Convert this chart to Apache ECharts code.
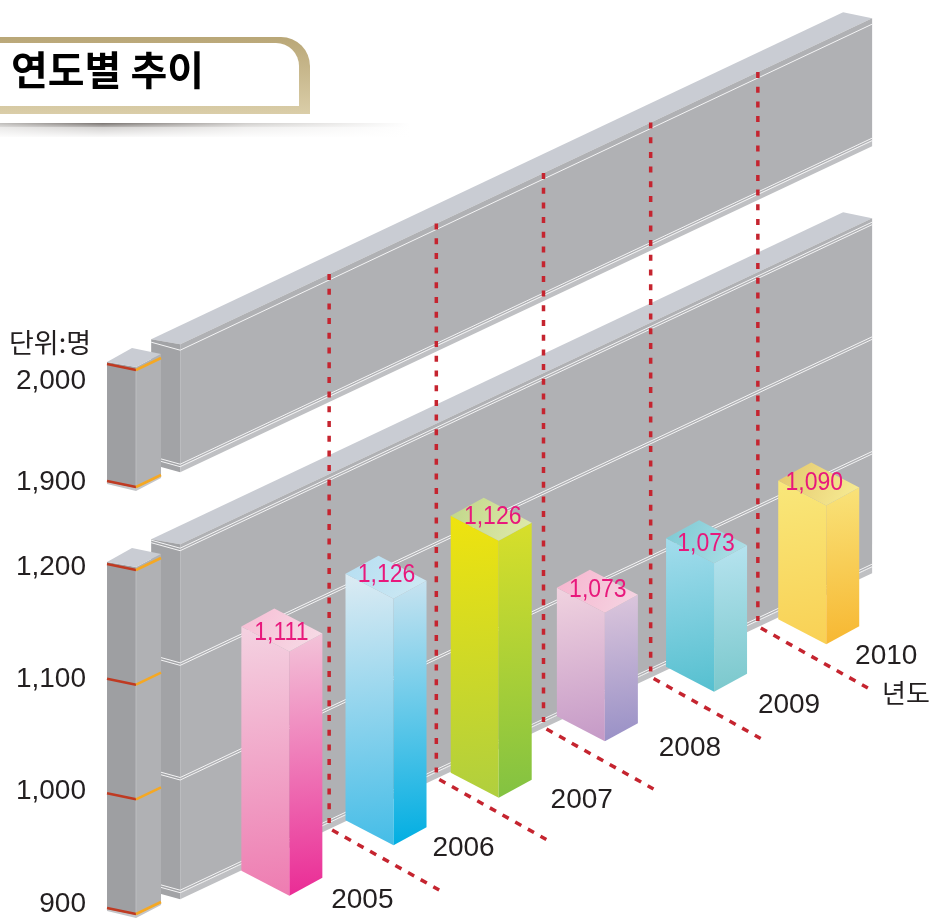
<!DOCTYPE html>
<html>
<head>
<meta charset="utf-8">
<title>연도별 추이</title>
<script src="https://cdn.jsdelivr.net/npm/echarts@6/dist/echarts.min.js"></script>
<style>
    html, body { margin: 0; padding: 0; background: #fff; }
    #chart { width: 934px; height: 918px; }
</style>
</head>
<body>
<div id="chart"></div>
<script>
// chart values
const years = [2005, 2006, 2007, 2008, 2009, 2010];
const printedValues = ['1,111', '1,126', '1,126', '1,073', '1,073', '1,090'];
// how tall each column is really drawn against the axis (the picture does not follow the printed numbers)
const drawnLevels = [1113, 1115, 1124, 1012, 1012, 1021];
const lowerTicks = [900, 1000, 1100, 1200];
const upperTicks = [1900, 2000];
const dashedYears = [2005, 2006, 2007, 2008, 2009];

// column face colours: [top from, top to, left from, left to, right from, right to]
const barColors = [
    ['#f7bdd4', '#f6dde7', '#f4d2e1', '#ee7cb1', '#f3c4d9', '#ea2b95'],
    ['#b5def2', '#cfe9f3', '#dcebf3', '#45bde7', '#c8e3f0', '#00aee2'],
    ['#c0d688', '#e0eaad', '#efe30e', '#b0cf3e', '#d8df2a', '#82c242'],
    ['#f7b4ce', '#f4d6e3', '#f0d2df', '#c59ac7', '#dcc6dc', '#9890c6'],
    ['#7bc9d3', '#b2e0e7', '#a2dcec', '#56c0d0', '#b6e3ef', '#7ac8cc'],
    ['#e3c66c', '#f8ee96', '#f9e77a', '#f9d155', '#f9e37a', '#f7b731']
];

// where the wall and pillar sit along the year axis
const wallStart = 2004, wallEnd = 2010.456, pillarFront = 2003.588, dashedShift = 0.39;
const skewPerYear = 50.5;      // the drawing rises to the right
const barLift = 53;            // columns stand in front of the wall
// the original is hand placed, so columns and their labels are a few pixels off a regular step
const barNudge = [[2, 0], [-1, 0], [-3, 3], [-4, -3], [-2, -2], [3, 1]];
const valueLabelNudge = [[-8, 4], [-7, -2], [-6, -2], [-7, -1], [-8, 3], [-12, 0]];
const yearLabelNudge = [[73, 5], [70, 3], [83, 3], [85, 7], [75, 14], [60, 12]];

const sansFont = '"Liberation Sans", Arial, sans-serif';
const krFont = '"Noto Sans CJK KR", sans-serif';

const chart = echarts.init(document.getElementById('chart'));

// data -> pixel, with the skew applied
function project(api, year, value, lift) {
    const p = api.coord([year, value]);
    return [p[0], p[1] - skewPerYear * (year - pillarFront) + (lift || 0)];
}

function poly(points, fill, z2) {
    return { type: 'polygon', z2: z2 || 0, shape: { points: points }, style: { fill: fill } };
}

function seg(a, b, color, width, dash, z2) {
    return {
        type: 'line', z2: z2 || 0,
        shape: { x1: a[0], y1: a[1], x2: b[0], y2: b[1] },
        style: { stroke: color, lineWidth: width, lineDash: dash || null }
    };
}

function grad(from, to) {
    return new echarts.graphic.LinearGradient(0.2, 0, 0.8, 1, [
        { offset: 0, color: from }, { offset: 1, color: to }
    ]);
}

// one wall with its whitish lines and the pillar standing in front
function renderWall(lineOffsets, low, high, ticks) {
    return function (params, api) {
        const a = project(api, wallStart, high), b = project(api, wallEnd, high);
        const c = project(api, wallEnd, low), d = project(api, wallStart, low);
        const kids = [];
        // top, side, front
        kids.push(poly([[a[0], a[1] - 5], [b[0], b[1] - 5], [b[0] - 29, b[1] - 11], [a[0] - 29, a[1] - 10]], '#c9ccd3'));
        kids.push(poly([[a[0] - 29, a[1] - 10], [a[0], a[1] - 5], [d[0], d[1] + 6], [d[0] - 29, d[1] - 2]], '#a2a3a6'));
        kids.push(poly([[c[0], c[1] + 6], [d[0], d[1] + 6], [d[0], d[1]], [c[0], c[1]]], '#bfc0c3'));
        kids.push(poly([[a[0], a[1] - 5], [b[0], b[1] - 5], [c[0], c[1]], [d[0], d[1]]], '#b0b1b4'));
        // white lines across the wall
        lineOffsets.forEach(function (item) {
            const l = project(api, wallStart, item[0]), r = project(api, wallEnd, item[0]);
            item[1].forEach(function (off) {
                kids.push(seg([l[0], l[1] + off], [r[0], r[1] + off], '#f4f4f5', 1));
                kids.push(seg([l[0] - 29, l[1] + off - 8], [l[0], l[1] + off], '#f4f4f5', 1));
            });
        });
        // pillar
        const top = project(api, pillarFront, high), bot = project(api, pillarFront, low);
        const fx = top[0], lx = fx - 29, rx = fx + 25;
        kids.push(poly([[lx, bot[1] - 6], [fx, bot[1]], [rx, bot[1] - 12], [rx, bot[1] - 9], [fx, bot[1] + 4], [lx, bot[1] - 3]], '#c4c5c8', 1));
        kids.push(poly([[lx, top[1] - 8], [fx, top[1] - 3], [fx, bot[1] + 1], [lx, bot[1] - 5]], '#9e9fa2', 1));
        kids.push(poly([[fx, top[1] - 3], [rx, top[1] - 16], [rx, bot[1] - 11], [fx, bot[1] + 1]], '#b0b1b4', 1));
        kids.push(seg([fx, top[1] - 3], [fx, bot[1]], '#bcbdc0', 1, null, 1));
        kids.push(poly([[lx, top[1] - 8], [fx - 4, top[1] - 22], [rx, top[1] - 16], [fx, top[1] - 3]], '#c9ccd3', 1));
        // pillar ticks
        ticks.forEach(function (v) {
            const t = project(api, pillarFront, v);
            kids.push(seg([lx, t[1] - 6], [fx, t[1]], '#bf3a22', 2.5, null, 2));
            kids.push(seg([fx, t[1]], [rx, t[1] - 12], '#f5a823', 2.5, null, 2));
        });
        return { type: 'group', children: kids };
    };
}

// dashed guide: down the walls, then out along the floor
function renderDashed(params, api) {
    const year = api.value(0) + dashedShift;
    const bottom = project(api, year, 900);
    const upper = chart.convertToPixel({ gridIndex: 1 }, [year, 2000]);
    const topY = upper[1] - skewPerYear * (year - pillarFront);
    const dash = [6, 8.7];
    return {
        type: 'group',
        children: [
            seg([bottom[0], topY - 5], [bottom[0], bottom[1]], '#c5242f', 3.5, dash),
            seg([bottom[0] + 3, bottom[1] + 7], [bottom[0] + 110, bottom[1] + 67], '#c5242f', 3.5, [7, 7.5])
        ]
    };
}

// one column with its printed number and year
function renderBar(params, api) {
    const i = params.dataIndex;
    const color = barColors[i];
    const nudge = barNudge[i];
    const base = project(api, api.value(0), 900, barLift + nudge[1]);
    const head = project(api, api.value(0), api.value(1), barLift + nudge[1]);
    const x = base[0] + nudge[0], leftX = x - 48, rightX = x + 33;
    return {
        type: 'group',
        children: [
            poly([[leftX, head[1] - 25], [x, head[1]], [x, base[1]], [leftX, base[1] - 25]], grad(color[2], color[3])),
            poly([[x, head[1]], [rightX, head[1] - 18], [rightX, base[1] - 18], [x, base[1]]], grad(color[4], color[5])),
            poly([[leftX, head[1] - 25], [x - 15, head[1] - 43], [rightX, head[1] - 18], [x, head[1]]], new echarts.graphic.LinearGradient(0, 0, 1, 1, [
                { offset: 0, color: color[0] }, { offset: 1, color: color[1] }
            ])),
            {
                type: 'text', x: x + valueLabelNudge[i][0], y: head[1] - 22 + valueLabelNudge[i][1], scaleX: 0.92, z2: 3,
                style: { text: printedValues[i], fontFamily: sansFont, fontSize: 25, fill: '#e8187c', align: 'center', verticalAlign: 'middle' }
            },
            {
                type: 'text', x: x + yearLabelNudge[i][0], y: base[1] + yearLabelNudge[i][1], z2: 3,
                style: { text: String(years[i]), fontFamily: sansFont, fontSize: 28, fill: '#231f20', align: 'center', verticalAlign: 'middle' }
            }
        ]
    };
}

// soft shadow under the title plate, fading downwards
function plateShadow() {
    const rows = [];
    for (let row = 0; row < 14; row++) {
        rows.push({
            type: 'rect', z: 1, shape: { x: 0, y: 123 + row, width: 410, height: 1 },
            style: {
                opacity: row < 4 ? 1 - row * 0.12 : 0.45 - row * 0.03,
                fill: new echarts.graphic.LinearGradient(0, 0, 1, 0, [
                    { offset: 0, color: '#c4c2c0' }, { offset: 0.25, color: '#7f7a77' },
                    { offset: 0.6, color: '#d2d0ce' }, { offset: 1, color: '#ffffff' }
                ])
            }
        });
    }
    return rows;
}

const hiddenX = { type: 'value', min: 2003, max: 2011, show: false };
const gridX = { left: 73, width: 857.4 };
const axisText = { color: '#231f20', fontFamily: sansFont, fontSize: 28, margin: -13 };

chart.setOption({
    animation: false,
    backgroundColor: '#fff',
    // 0/1 carry the drawing, 2/3 only carry the printed tick labels
    grid: [
        Object.assign({ top: 570, height: 344 }, gridX),
        Object.assign({ top: 370, height: 117 }, gridX),
        Object.assign({ top: 567, height: 341 }, gridX),
        Object.assign({ top: 381, height: 101 }, gridX)
    ],
    xAxis: [0, 1, 2, 3].map(function (g) { return Object.assign({ gridIndex: g }, hiddenX); }),
    yAxis: [
        { gridIndex: 0, type: 'value', min: 900, max: 1200, show: false },
        { gridIndex: 1, type: 'value', min: 1900, max: 2000, show: false },
        {
            gridIndex: 2, type: 'value', min: 900, max: 1200, interval: 100,
            axisLine: { show: false }, axisTick: { show: false }, splitLine: { show: false }, axisLabel: axisText
        },
        {
            gridIndex: 3, type: 'value', min: 1900, max: 2000, interval: 100,
            axisLine: { show: false }, axisTick: { show: false }, splitLine: { show: false }, axisLabel: axisText
        }
    ],
    graphic: [
        // title plate
        {
            type: 'rect', z: 1,
            shape: { x: -40, y: 37, width: 350, height: 77, r: [0, 29, 0, 0] },
            style: { fill: new echarts.graphic.LinearGradient(0, 0, 0, 1, [{ offset: 0, color: '#b9a777' }, { offset: 1, color: '#dacda8' }]) }
        },
        {
            type: 'rect', z: 1,
            shape: { x: -40, y: 43, width: 339, height: 63, r: [0, 23, 0, 0] },
            style: { fill: '#fff' }
        },
        {
            type: 'text', z: 2, left: 11, top: 50,
            style: { text: '연도별 추이', fontFamily: krFont, fontWeight: 'bold', fontSize: 40, fill: '#000' }
        },
        {
            type: 'text', z: 2, left: 9, top: 329,
            style: { text: '단위:명', fontFamily: krFont, fontSize: 27, fill: '#231f20' }
        },
        {
            type: 'text', z: 2, left: 882, top: 680,
            style: { text: '년도', fontFamily: krFont, fontSize: 26, fill: '#231f20' }
        }
    ].concat(plateShadow()),
    series: [
        {
            type: 'custom', xAxisIndex: 1, yAxisIndex: 1, z: 2, silent: true, data: [[2000]],
            renderItem: renderWall([[2000, [1]], [1900, [-2, 0.5]]], 1900, 2000, upperTicks)
        },
        {
            type: 'custom', xAxisIndex: 0, yAxisIndex: 0, z: 2, silent: true, data: [[1200]],
            renderItem: renderWall([[1200, [-1, 1.5]], [1100, [-1, 1.5]], [1000, [-1, 1.5]], [900, [-3, -0.5]]], 900, 1200, lowerTicks)
        },
        {
            type: 'custom', xAxisIndex: 0, yAxisIndex: 0, z: 3, silent: true,
            data: dashedYears.map(function (y) { return [y]; }),
            renderItem: renderDashed
        },
        {
            type: 'custom', xAxisIndex: 0, yAxisIndex: 0, z: 4, silent: true,
            data: years.map(function (y, i) { return [y, drawnLevels[i]]; }),
            renderItem: renderBar
        }
    ]
});
</script>
</body>
</html>
